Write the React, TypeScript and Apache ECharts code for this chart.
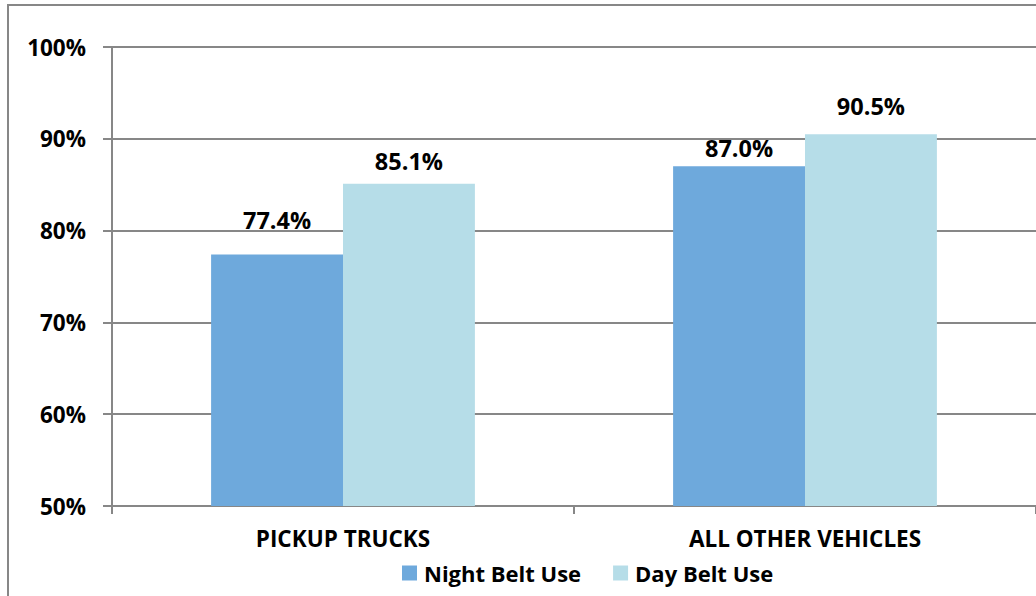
import React, { useEffect, useRef } from "react";
import * as echarts from "echarts";

const categories = ["PICKUP TRUCKS", "ALL OTHER VEHICLES"];
const nightBeltUse = [77.4, 87.0];
const dayBeltUse = [85.1, 90.5];
const yTicks = { min: 50, max: 100, interval: 10 };
const nightLabelGap = [22, 6];
const dayLabelGap = [11, 16];

const FONT = "'Open Sans', 'Noto Sans', sans-serif";
const GRAY = "#878787";

export default function App() {
  const ref = useRef<HTMLDivElement>(null);
  useEffect(() => {
    document.body.style.margin = "0";
    const chart = echarts.init(ref.current!, null, { renderer: "svg" });
    const labelStyle = {
      show: true,
      position: "top" as const,
      fontFamily: FONT,
      fontWeight: "bold" as const,
      fontSize: 23.5,
      color: "#000",
      formatter: (p: any) => Number(p.value).toFixed(1) + "%",
    };
    chart.setOption({
      animation: false,
      backgroundColor: "#fff",
      graphic: [
        {
          type: "rect",
          shape: { x: 8, y: 5, width: 1200, height: 800 },
          style: { fill: "none", stroke: GRAY, lineWidth: 2 },
          silent: true,
          z: -1,
        },
      ],
      grid: { left: 112, right: 0, top: 47, bottom: 90, containLabel: false },
      legend: {
        data: ["Night Belt Use", "Day Belt Use"],
        left: 397,
        top: 557,
        itemWidth: 15,
        itemHeight: 15,
        itemGap: 32,
        icon: "rect",
        textStyle: { fontFamily: FONT, fontWeight: "bold", fontSize: 22, color: "#000", padding: [0, 0, 0, 2] },
      },
      xAxis: {
        type: "category",
        data: categories,
        axisLine: { lineStyle: { color: GRAY, width: 2 } },
        axisTick: { show: true, length: 8, lineStyle: { color: GRAY, width: 2 } },
        axisLabel: { fontFamily: FONT, fontWeight: "bold", fontSize: 22.5, color: "#000", margin: 21 },
      },
      yAxis: {
        type: "value",
        min: yTicks.min,
        max: yTicks.max,
        interval: yTicks.interval,
        axisLine: { show: true, lineStyle: { color: GRAY, width: 2 } },
        axisTick: { show: true, length: 9, lineStyle: { color: GRAY, width: 2 } },
        splitLine: { lineStyle: { color: GRAY, width: 2 } },
        axisLabel: {
          fontFamily: FONT,
          fontWeight: "bold",
          fontSize: 22.5,
          color: "#000",
          margin: 26,
          formatter: "{value}%",
        },
      },
      series: [
        {
          name: "Night Belt Use",
          type: "bar",
          barGap: "0%",
          barCategoryGap: "42.9%",
          itemStyle: { color: "#6EA9DC" },
          data: nightBeltUse.map((v, i) => ({ value: v, label: { distance: nightLabelGap[i] } })),
          label: labelStyle,
        },
        {
          name: "Day Belt Use",
          type: "bar",
          barGap: "0%",
          barCategoryGap: "42.9%",
          itemStyle: { color: "#B6DDE8" },
          data: dayBeltUse.map((v, i) => ({ value: v, label: { distance: dayLabelGap[i] } })),
          label: labelStyle,
        },
      ],
    });
    return () => chart.dispose();
  }, []);
  return <div ref={ref} style={{ width: 1036, height: 596 }} />;
}
